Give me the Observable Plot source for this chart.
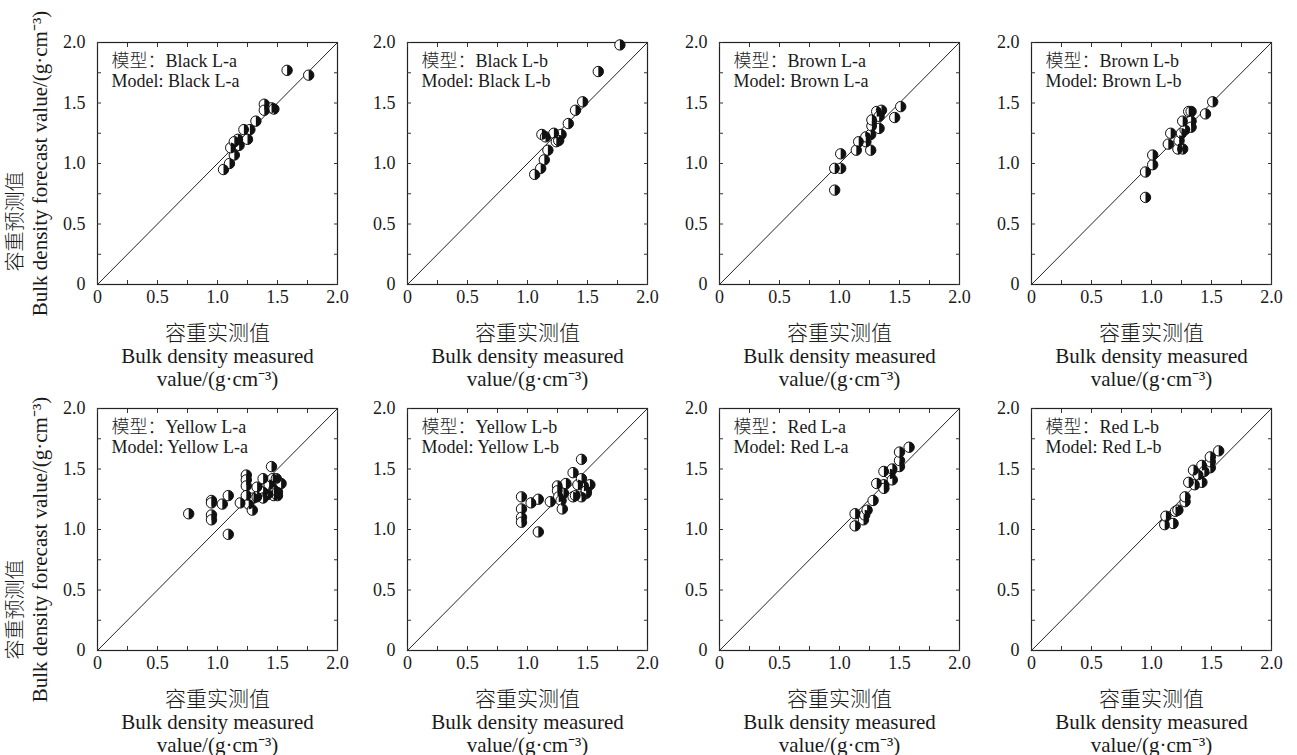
<!DOCTYPE html>
<html>
<head>
<meta charset="utf-8">
<script src="https://cdn.jsdelivr.net/npm/d3@7"></script>
<script src="https://cdn.jsdelivr.net/npm/@observablehq/plot@0.6"></script>
<style>
  html, body { margin: 0; padding: 0; background: #fff; overflow: hidden; }
  #wrap { position: relative; width: 1297px; height: 755px; }
  #wrap > svg { position: absolute; }
</style>
</head>
<body>
<div id="wrap"></div>
<script>
// ---- data ----
const panelNames = ["Black L-a", "Black L-b", "Brown L-a", "Brown L-b", "Yellow L-a", "Yellow L-b", "Red L-a", "Red L-b"];

const blackLaMeasured = [1.05, 1.10, 1.14, 1.11, 1.18, 1.17, 1.14, 1.22, 1.27, 1.25, 1.32, 1.39, 1.39, 1.45, 1.47, 1.58, 1.76];
const blackLaForecast = [0.95, 1.00, 1.07, 1.13, 1.15, 1.20, 1.18, 1.28, 1.28, 1.20, 1.35, 1.49, 1.44, 1.46, 1.45, 1.77, 1.73];

const blackLbMeasured = [1.06, 1.11, 1.14, 1.17, 1.12, 1.15, 1.22, 1.28, 1.24, 1.26, 1.34, 1.40, 1.46, 1.59, 1.77];
const blackLbForecast = [0.91, 0.96, 1.03, 1.11, 1.24, 1.22, 1.25, 1.24, 1.18, 1.19, 1.33, 1.44, 1.51, 1.76, 1.98];

const brownLaMeasured = [0.96, 0.96, 1.01, 1.01, 1.14, 1.26, 1.16, 1.22, 1.22, 1.26, 1.27, 1.27, 1.33, 1.31, 1.35, 1.33, 1.46, 1.51];
const brownLaForecast = [0.78, 0.96, 0.96, 1.08, 1.11, 1.11, 1.18, 1.18, 1.22, 1.24, 1.31, 1.36, 1.29, 1.43, 1.44, 1.39, 1.38, 1.47];

const brownLbMeasured = [0.95, 0.95, 1.01, 1.01, 1.14, 1.16, 1.22, 1.26, 1.23, 1.25, 1.28, 1.26, 1.31, 1.33, 1.33, 1.33, 1.45, 1.51];
const brownLbForecast = [0.72, 0.93, 0.99, 1.07, 1.16, 1.25, 1.12, 1.12, 1.19, 1.25, 1.28, 1.35, 1.43, 1.43, 1.35, 1.30, 1.41, 1.51];

const yellowLaMeasured = [0.76, 0.95, 0.95, 0.95, 0.95, 1.04, 1.09, 1.09, 1.19, 1.24, 1.24, 1.24, 1.24, 1.26, 1.29, 1.30, 1.33, 1.33, 1.38, 1.38, 1.38, 1.42, 1.43, 1.45, 1.46, 1.49, 1.47, 1.47, 1.50, 1.50, 1.53];
const yellowLaForecast = [1.13, 1.24, 1.22, 1.12, 1.08, 1.21, 1.28, 0.96, 1.22, 1.45, 1.41, 1.36, 1.28, 1.21, 1.16, 1.26, 1.35, 1.27, 1.31, 1.42, 1.26, 1.29, 1.37, 1.52, 1.42, 1.42, 1.33, 1.28, 1.28, 1.31, 1.38];

const yellowLbMeasured = [0.95, 0.95, 0.95, 0.95, 1.03, 1.09, 1.09, 1.19, 1.25, 1.25, 1.26, 1.28, 1.29, 1.30, 1.32, 1.38, 1.40, 1.38, 1.42, 1.45, 1.45, 1.45, 1.47, 1.49, 1.49, 1.52];
const yellowLbForecast = [1.27, 1.17, 1.10, 1.06, 1.22, 1.25, 0.98, 1.23, 1.36, 1.32, 1.27, 1.24, 1.17, 1.30, 1.38, 1.27, 1.28, 1.47, 1.37, 1.42, 1.58, 1.27, 1.36, 1.30, 1.32, 1.37];

const redLaMeasured = [1.13, 1.13, 1.20, 1.21, 1.23, 1.28, 1.31, 1.37, 1.37, 1.37, 1.42, 1.44, 1.44, 1.50, 1.50, 1.50, 1.58];
const redLaForecast = [1.03, 1.13, 1.08, 1.12, 1.16, 1.24, 1.38, 1.37, 1.34, 1.48, 1.46, 1.50, 1.41, 1.52, 1.57, 1.64, 1.68];

const redLbMeasured = [1.11, 1.12, 1.18, 1.20, 1.22, 1.28, 1.28, 1.31, 1.36, 1.35, 1.39, 1.42, 1.42, 1.44, 1.49, 1.49, 1.49, 1.56];
const redLbForecast = [1.04, 1.11, 1.05, 1.15, 1.16, 1.23, 1.27, 1.39, 1.37, 1.49, 1.45, 1.39, 1.53, 1.48, 1.51, 1.56, 1.60, 1.65];

const measuredSets = [blackLaMeasured, blackLbMeasured, brownLaMeasured, brownLbMeasured, yellowLaMeasured, yellowLbMeasured, redLaMeasured, redLbMeasured];
const forecastSets = [blackLaForecast, blackLbForecast, brownLaForecast, brownLbForecast, yellowLaForecast, yellowLbForecast, redLaForecast, redLbForecast];

const axisDomain = [0, 2];
const majorTicks = [0, 0.5, 1.0, 1.5, 2.0];
const allTicks = [0, 0.25, 0.5, 0.75, 1.0, 1.25, 1.5, 1.75, 2.0];
const oneToOne = [0, 2];

const xTitle = "容重实测值\nBulk density measured\nvalue/(g·cm⁻³)";
const yTitleZh = "容重预测值";
const yTitleEn = "Bulk density forecast value/(g·cm⁻³)";

// ---- layout ----
const frameLefts = [97, 407, 719, 1031];
const frameTops = [42, 408];
const PW = 240, PH = 242, MT = 10, MB = 108, MR = 12;
const FONT = "'Liberation Serif', 'Times New Roman', 'Noto Sans CJK SC', serif";
const INK = "#1a1a1a";

const halfRight = {
  draw(context, size) {
    const r = Math.sqrt(size / Math.PI);
    context.moveTo(0, -r);
    context.arc(0, 0, r, -Math.PI / 2, Math.PI / 2);
    context.closePath();
  }
};

const fmt = d => d === 0 ? "0" : d.toFixed(1);

const wrap = document.getElementById("wrap");

panelNames.forEach((name, i) => {
  const col = i % 4, row = Math.floor(i / 4);
  const ML = col === 0 ? frameLefts[0] : 45;
  const data = measuredSets[i].map((m, j) => ({m, f: forecastSets[i][j]}));
  const marks = [
    Plot.frame({stroke: "#222", strokeWidth: 1.2}),
    Plot.axisX(allTicks, {anchor: "bottom", tickSize: -4, tickFormat: () => "", label: null, stroke: "#333"}),
    Plot.axisX(allTicks, {anchor: "top", tickSize: -4, tickFormat: () => "", label: null, stroke: "#333"}),
    Plot.axisY(allTicks, {anchor: "left", tickSize: -4, tickFormat: () => "", label: null, stroke: "#333"}),
    Plot.axisY(allTicks, {anchor: "right", tickSize: -4, tickFormat: () => "", label: null, stroke: "#333"}),
    Plot.axisX(majorTicks, {anchor: "bottom", tickSize: 0, tickPadding: 6, tickFormat: fmt, label: null, fontSize: 18, fill: INK}),
    Plot.axisY(majorTicks, {anchor: "left", tickSize: 0, tickPadding: 12, tickFormat: fmt, label: null, fontSize: 18, fill: INK}),
    Plot.line(oneToOne, {x: d => d, y: d => d, stroke: "#222", strokeWidth: 1}),
    Plot.dot(data, {x: "m", y: "f", r: 5.2, fill: "white", stroke: "#111", strokeWidth: 1}),
    Plot.dot(data, {x: "m", y: "f", r: 5.2, symbol: halfRight, fill: "#111", stroke: "none"}),
    Plot.text([`模型：${name}\nModel: ${name}`], {
      frameAnchor: "top-left", text: d => d, dx: 14, dy: 10, textAnchor: "start",
      lineAnchor: "top", fontSize: 18, lineHeight: 1.12, fill: INK, fontWeight: 300
    }),
    Plot.text([xTitle], {
      frameAnchor: "bottom", text: d => d, dy: 71, lineAnchor: "middle", textAnchor: "middle",
      fontSize: 21, lineHeight: 1.1, fill: INK, fontWeight: 300
    })
  ];
  if (col === 0) {
    marks.push(Plot.text([yTitleZh], {
      frameAnchor: "left", text: d => d, rotate: -90, dx: -82, dy: row === 0 ? 58 : 80,
      textAnchor: "middle", lineAnchor: "middle", fontSize: 20, fill: INK, fontWeight: 300
    }));
    marks.push(Plot.text([yTitleEn], {
      frameAnchor: "left", text: d => d, rotate: -90, dx: -57, dy: row === 0 ? 0 : 20,
      textAnchor: "middle", lineAnchor: "middle", fontSize: 21, fill: INK
    }));
  }
  const svg = Plot.plot({
    width: ML + PW + MR,
    height: MT + PH + MB,
    marginLeft: ML, marginRight: MR, marginTop: MT, marginBottom: MB,
    x: {domain: axisDomain},
    y: {domain: axisDomain},
    style: {fontFamily: FONT, background: "transparent", overflow: "visible", color: INK},
    marks
  });
  svg.style.left = (frameLefts[col] - ML) + "px";
  svg.style.top = (frameTops[row] - MT) + "px";
  wrap.appendChild(svg);
});
</script>
</body>
</html>
